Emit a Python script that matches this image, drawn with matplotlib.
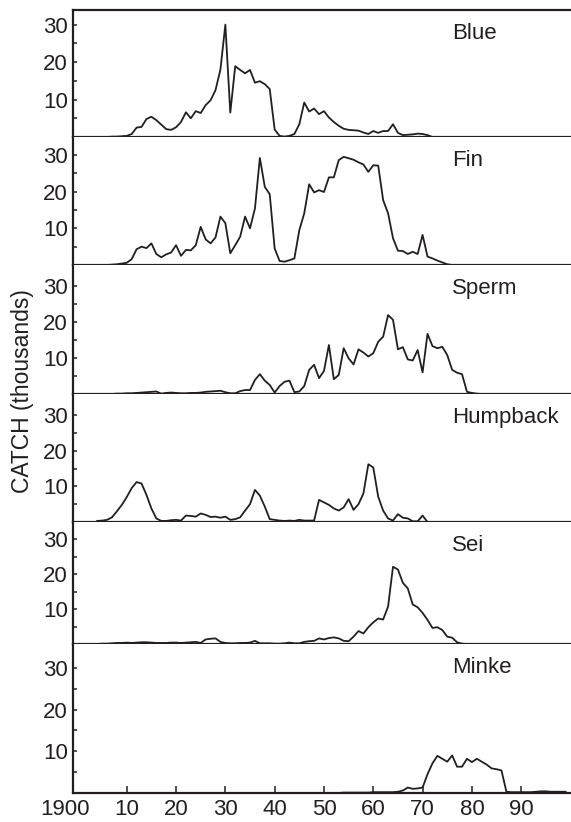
import matplotlib
matplotlib.use("Agg")
import matplotlib.pyplot as plt
import matplotlib.transforms as mtransforms
import numpy as np

plt.rcParams['font.family'] = ['Liberation Sans', 'DejaVu Sans']

# whale catches, thousands per year
species = ["Blue", "Fin", "Sperm", "Humpback", "Sei", "Minke"]
start_years = [1900, 1900, 1905, 1904, 1904, 1952]

blue = [0, 0, 0, 0, 0, 0, 0,
        0.1, 0.1, 0.2, 0.3, 0.8,
        2.5, 2.7, 4.8, 5.4, 4.5, 3.3, 2.1, 1.9, 2.6, 4.0,
        6.6, 5.0, 6.9, 6.4, 8.5, 9.8, 12.5, 18.0, 30.0, 6.5,
        18.9, 17.9, 17.0, 17.9, 14.5, 14.9, 14.1, 12.8, 2.0, 0.3,
        0.1, 0.3, 0.8, 3.4, 9.2, 6.8, 7.6, 6.1, 6.9, 5.2,
        4.0, 3.0, 2.2, 1.9, 1.8, 1.7, 1.2, 0.8, 1.6, 1.1,
        1.6, 1.6, 3.4, 1.1, 0.5, 0.6, 0.7, 0.9, 0.8, 0.5,
        0, 0, 0, 0, 0, 0, 0, 0, 0, 0, 0, 0, 0, 0,
        0, 0, 0, 0, 0, 0, 0, 0, 0, 0, 0, 0, 0, 0]

fin = [0, 0, 0, 0, 0, 0, 0,
       0.1, 0.2, 0.4, 0.6, 1.6, 4.3, 5.0, 4.6, 5.9, 3.0,
       2.1, 2.9, 3.4, 5.4, 2.5, 4.1, 4.0, 5.4, 10.4, 7.0,
       5.9, 7.5, 13.2, 11.4, 3.2, 5.4, 7.7, 13.2, 10.0, 15.4,
       29.2, 21.3, 19.3, 4.5, 1.1, 0.9, 1.3, 1.8, 9.5, 14.1,
       22.0, 19.8, 20.4, 19.9, 23.9, 23.9, 28.6, 29.5, 29.1, 28.7,
       28.0, 27.4, 25.4, 27.2, 27.1, 17.7, 14.1, 7.3, 3.9, 3.8,
       3.0, 3.6, 3.0, 8.2, 2.3, 1.8, 1.2, 0.7, 0.2, 0,
       0, 0, 0, 0, 0, 0, 0, 0, 0, 0, 0, 0,
       0, 0, 0, 0, 0, 0, 0, 0, 0, 0, 0]

sperm = [0, 0, 0, 0.1, 0.1, 0.2, 0.2, 0.3, 0.4, 0.5,
         0.6, 0.7, 0.1, 0.3, 0.4, 0.3, 0.2, 0.2, 0.3, 0.3,
         0.4, 0.6, 0.7, 0.8, 0.9, 0.5, 0.2, 0.2, 0.8, 1.1,
         1.1, 3.9, 5.5, 3.7, 2.5, 0.4, 2.2, 3.4, 3.7, 0.5,
         0.7, 2.2, 6.7, 8.1, 4.4, 6.4, 13.6, 4.1, 5.3, 12.7,
         9.9, 8.2, 12.4, 11.5, 10.4, 11.3, 14.5, 15.9, 21.9, 20.6,
         12.4, 13.0, 9.6, 9.3, 12.2, 6.0, 16.7, 13.3, 12.7, 13.1,
         10.8, 6.7, 5.9, 5.5, 0.6, 0.3, 0.1, 0, 0, 0,
         0, 0, 0, 0, 0, 0, 0, 0, 0, 0, 0]

humpback = [0.3, 0.4, 0.6, 1.3, 3.0, 4.8, 7.0, 9.5, 11.2, 10.8,
            7.6, 3.8, 1.0, 0.3, 0.3, 0.5, 0.6, 0.4, 1.8, 1.7,
            1.5, 2.4, 2.0, 1.4, 1.5, 1.2, 1.5, 0.6, 0.8, 1.3,
            3.2, 5.0, 9.0, 7.4, 4.3, 0.8, 0.6, 0.4, 0.3, 0.4,
            0.3, 0.6, 0.4, 0.4, 0.4, 6.2, 5.5, 4.8, 3.8, 3.2,
            4.1, 6.4, 3.4, 5.0, 8.0, 16.2, 15.3, 7.1, 3.2, 1.0,
            0.4, 2.2, 1.2, 1.0, 0.2, 0.2, 1.8, 0, 0]

sei = [0, 0.1, 0.1, 0.2, 0.3, 0.3, 0.4, 0.3, 0.4, 0.5,
       0.5, 0.4, 0.3, 0.3, 0.3, 0.4, 0.4, 0.3, 0.4, 0.5,
       0.6, 0.3, 1.3, 1.5, 1.6, 0.6, 0.3, 0.2, 0.2, 0.3,
       0.3, 0.4, 0.9, 0.2, 0.2, 0.2, 0.1, 0.1, 0.2, 0.4,
       0.2, 0.2, 0.6, 0.8, 0.9, 1.6, 1.3, 1.7, 1.9, 1.6,
       0.9, 0.8, 2.1, 3.7, 3.0, 4.8, 6.2, 7.3, 7.0, 10.7,
       22.1, 21.3, 17.5, 15.9, 11.3, 10.5, 8.9, 6.9, 4.6, 4.8,
       4.0, 2.1, 1.8, 0.5, 0.1, 0, 0, 0, 0, 0,
       0, 0, 0, 0, 0, 0, 0, 0, 0, 0, 0, 0]

minke = [0, 0, 0.1, 0.1, 0.1, 0.1, 0.1, 0.1, 0.2, 0.2,
         0.2, 0.2, 0.2, 0.3, 0.6, 1.3, 1.0, 1.1, 1.3, 4.5,
         7.1, 8.9, 8.2, 7.5, 9.0, 6.3, 6.3, 8.2, 7.4, 8.2,
         7.5, 6.8, 5.9, 5.7, 5.4, 0.3, 0.2, 0.2, 0.2, 0.2,
         0.2, 0.3, 0.4, 0.4, 0.3, 0.3, 0.3, 0.3]

catches = [blue, fin, sperm, humpback, sei, minke]

decade_ticks = [1900, 1910, 1920, 1930, 1940, 1950, 1960, 1970, 1980, 1990]
decade_labels = ["1900", "10", "20", "30", "40", "50", "60", "70", "80", "90"]

# panel heights in pixels and y range of each
heights = [127, 128, 129, 128, 122, 149]
ytops = [33.9, 34.9, 35.8, 35.9, 34.9, 35.7]

ink = "#231f20"

fig = plt.figure(figsize=(5.71, 8.22), dpi=100)
gs = fig.add_gridspec(6, 1, height_ratios=heights, hspace=0,
                      left=73 / 571, right=1.0,
                      top=1 - 10 / 822, bottom=1 - 793 / 822)

for i, name in enumerate(species):
    ax = fig.add_subplot(gs[i])
    vals = catches[i]
    years = np.arange(start_years[i], start_years[i] + len(vals))
    ax.plot(years, vals, color=ink, lw=1.3)

    ax.set_xlim(1899.1, 2000.1)
    ax.set_ylim(0, ytops[i])

    ax.spines['right'].set_visible(False)
    if i > 0:
        ax.spines['top'].set_visible(False)
    for s in ['left', 'bottom', 'top']:
        ax.spines[s].set_linewidth(1.6)
        ax.spines[s].set_color(ink)

    ax.set_yticks([10, 20, 30])
    ax.set_yticks([5, 15, 25], minor=True)
    ax.tick_params(axis='y', which='both', direction='in', length=3,
                   width=1.1, pad=3.6, labelsize=16, colors=ink)

    if i < 5:
        ax.tick_params(axis='x', bottom=False, labelbottom=False)
    else:
        ax.set_xticks(decade_ticks)
        ax.set_xticklabels(decade_labels)
        ax.tick_params(axis='x', direction='in', length=5, width=1.1,
                       pad=4.3, labelsize=16, colors=ink)
        ax.xaxis.get_major_ticks()[0].tick1line.set_visible(False)
        lbl = ax.get_xticklabels()[0]
        shift = mtransforms.ScaledTranslation(-12.7 / 100, 0, fig.dpi_scale_trans)
        lbl.set_transform(lbl.get_transform() + shift)

    ax.annotate(name, xy=(0, 1), xycoords='axes fraction',
                xytext=(379, -29), textcoords='offset pixels',
                ha='left', va='baseline', fontsize=16, color=ink)

fig.text(22.5 / 571, 1 - 391.5 / 822, "CATCH (thousands)", rotation=90,
         ha='center', va='center', fontsize=16.5, color=ink)

fig.savefig("out.png", dpi=100)
